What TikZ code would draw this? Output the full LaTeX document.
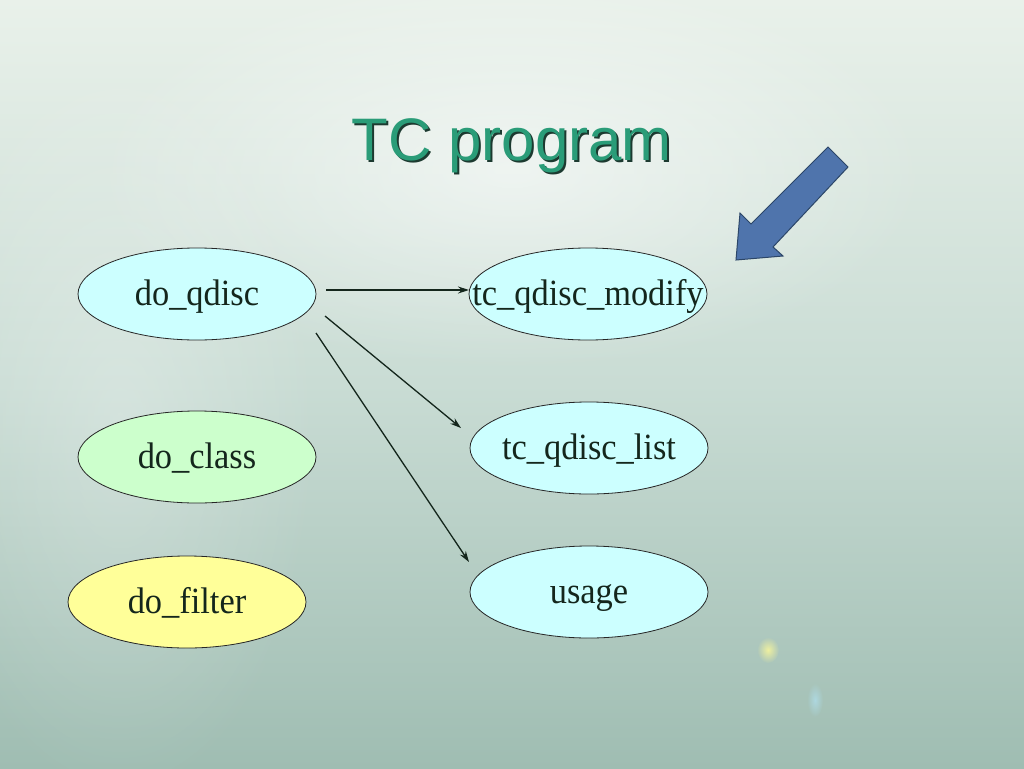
\documentclass[tikz,border=0pt]{standalone}
\usepackage{fontspec}
\setmainfont{Liberation Serif}
\newfontfamily\titlefont{Liberation Sans}
\usetikzlibrary{shapes.geometric,arrows.meta,fadings}
\tikzfading[name=myglow, inner color=transparent!0, outer color=transparent!100]
\definecolor{bgtop}{HTML}{E9F1EA}
\definecolor{bgmid}{HTML}{C9DCD4}
\definecolor{bgbot}{HTML}{9FBDB2}
\definecolor{cyanfill}{HTML}{CCFFFF}
\definecolor{greenfill}{HTML}{CCFFCC}
\definecolor{yellowfill}{HTML}{FFFF99}
\definecolor{txt}{HTML}{14261C}
\definecolor{titlecol}{HTML}{2A9C78}
\definecolor{titleshadow}{HTML}{1C3A30}
\definecolor{bluearrow}{HTML}{4F74AC}
\definecolor{bluedark}{HTML}{2C4668}
\newcommand{\sqz}[1]{\makebox[0pt]{\raisebox{-11pt}[0pt][0pt]{\scalebox{0.93}[1]{#1}}}}
\tikzset{
  oval/.style={ellipse, draw=black!85, line width=0.8pt, minimum width=238pt,
    minimum height=92pt, inner sep=0pt, text=txt,
    font=\fontsize{37}{40}\selectfont},
  link/.style={-{Stealth[length=11pt,width=7pt]}, draw=txt, line width=1.3pt}
}
\begin{document}
\begin{tikzpicture}[x=1pt,y=-1pt]
\useasboundingbox (0,0) rectangle (1024,768);
% background
\shade[top color=bgtop, bottom color=bgbot, middle color=bgmid] (0,0) rectangle (1024,768);
\fill[white, path fading=myglow, opacity=0.55] (512,170) ellipse (420 and 200);
\fill[white, path fading=myglow, opacity=0.25] (120,420) ellipse (200 and 380);
\fill[yellow!40!white, path fading=myglow, opacity=0.8] (768,650) ellipse (11 and 13);
\fill[cyan!30!white, path fading=myglow, opacity=0.6] (815,700) ellipse (8 and 17);
% title
\node[text=titleshadow, font=\titlefont\fontsize{60}{64}\selectfont, anchor=base] at (514,162) {TC program};
\node (title) [text=titlecol, font=\titlefont\fontsize{60}{64}\selectfont, anchor=base] at (512,160) {TC program};
% nodes
\node (dq) [oval, fill=cyanfill] at (197,294) {\sqz{do\_qdisc}};
\node (dc) [oval, fill=greenfill] at (197,457) {\sqz{do\_class}};
\node (df) [oval, fill=yellowfill] at (187,602) {\sqz{do\_filter}};
\node (tm) [oval, fill=cyanfill] at (588,294) {\sqz{tc\_qdisc\_modify}};
\node (tl) [oval, fill=cyanfill] at (589,448) {\sqz{tc\_qdisc\_list}};
\node (us) [oval, fill=cyanfill] at (589,592) {\sqz{usage}};
% connectors
\coordinate (s1) at (326,290);
\coordinate (s2) at (325,316);
\coordinate (s3) at (316,333);
\coordinate (e1) at (469,290);
\coordinate (e2) at (461,428);
\coordinate (e3) at (469,562);
\draw[link] (s1) -- (e1);
\draw[link] (s2) -- (e2);
\draw[link] (s3) -- (e3);
% block arrow
\filldraw[fill=bluearrow, draw=bluedark, line width=1pt]
  (828,147) -- (848,167) -- (773,247) -- (783,256) -- (736,260)
  -- (740,213) -- (751,224) -- cycle;
\end{tikzpicture}
\end{document}
